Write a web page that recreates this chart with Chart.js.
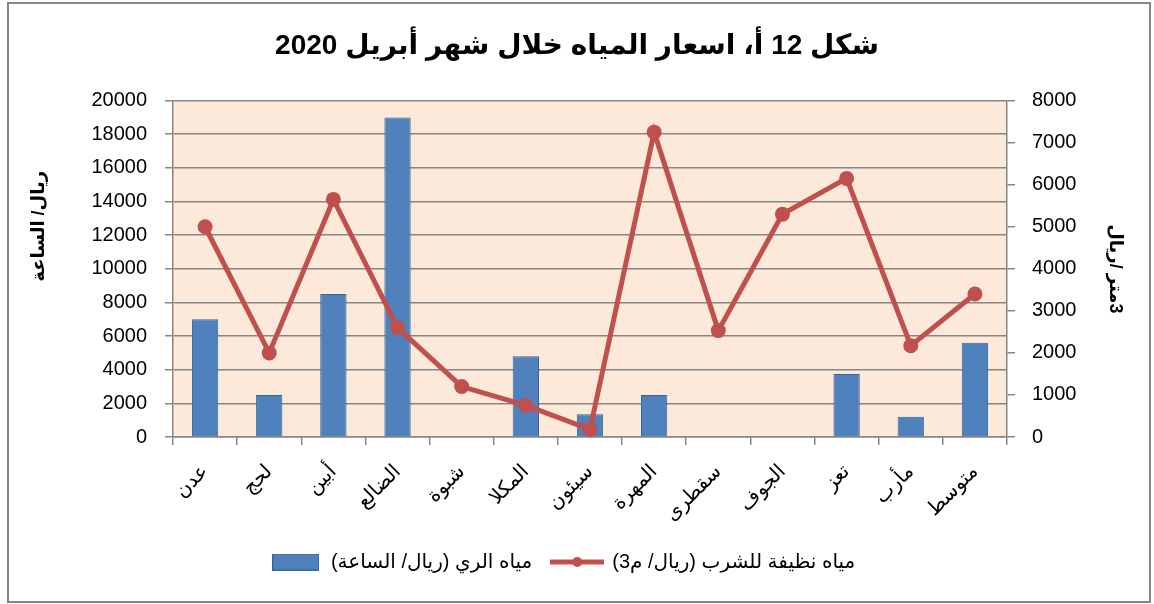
<!DOCTYPE html>
<html>
<head>
<meta charset="utf-8">
<script src="https://cdn.jsdelivr.net/npm/chart.js@4"></script>
<style>
html,body{margin:0;padding:0;background:#fff;}
#wrap{width:1154px;height:604px;position:relative;}
</style>
</head>
<body>
<div id="wrap"><canvas id="waterPrices"></canvas></div>
<script>
// categories (governorates) and the two series
const categories = ["عدن","لحج","أبين","الضالع","شبوة","المكلا","سيئون","المهرة","سقطرى","الجوف","تعز","مأرب","متوسط"];
const irrigationValues = [7000,2500,8500,19000,null,4800,1350,2500,null,null,3750,1200,5600];
const drinkingValues = [5000,2000,5650,2600,1200,750,180,7250,2530,5300,6150,2170,3400];

const chartTitle = "شكل 12 أ، اسعار المياه خلال شهر أبريل 2020";
const irrigationLabel = "مياه الري (ريال/ الساعة)";
const drinkingLabel = "مياه نظيفة للشرب (ريال/ م3)";
const leftAxisTitle = "ريال/ الساعة";
const rightAxisTitle = "\u200Eريال\u200E/ \u200Eمتر\u200E3";

const leftMax = 20000, leftStep = 2000;
const rightMax = 8000, rightStep = 1000;

const fontFamily = "'Liberation Sans', 'DejaVu Sans', sans-serif";
const gridGray = "#868686";
const barBlue = "#4F81BD";
const lineRed = "#C0504D";

/* small pictures used as legend markers */
function barSwatch(){
    const c=document.createElement("canvas");
    c.width=47; c.height=17;
    const g=c.getContext("2d");
    g.fillStyle=barBlue;
    g.fillRect(0,0,47,17);
    g.strokeStyle="#3A6496";
    g.lineWidth=1;
    g.strokeRect(0.5,0.5,46,16);
    return c;
}
function lineSwatch(){
    const c=document.createElement("canvas");
    c.width=54; c.height=12;
    const g=c.getContext("2d");
    g.strokeStyle=lineRed;
    g.lineWidth=5;
    g.beginPath(); g.moveTo(0,6); g.lineTo(54,6); g.stroke();
    g.fillStyle=lineRed;
    g.beginPath(); g.arc(27,6,5,0,Math.PI*2); g.fill();
    return c;
}

const plotBackground = {
    id:"plotBackground",
    beforeDraw(chart){
        const {ctx, chartArea:a} = chart;
        ctx.save();
        ctx.fillStyle="#FDE9D9";
        ctx.fillRect(a.left,a.top,a.right-a.left,a.bottom-a.top);
        ctx.restore();
    }
};

const outerFrame = {
    id:"outerFrame",
    afterDraw(chart){
        const ctx=chart.ctx;
        ctx.save();
        ctx.strokeStyle=gridGray;
        ctx.lineWidth=2;
        ctx.strokeRect(8,3,1142,599);
        ctx.restore();
    }
};

const markers=[barSwatch(),lineSwatch()];

function plainNumber(v){ return String(v); }

let canvas=document.getElementById("waterPrices").getContext("2d");

let chart=new Chart(canvas,{
    data:{
        labels:categories,
        datasets:[
            {
                type:"bar",
                label:irrigationLabel,
                data:irrigationValues,
                yAxisID:"y",
                backgroundColor:barBlue,
                borderColor:"#3A6496",
                borderWidth:1,
                categoryPercentage:1,
                barPercentage:0.41,
                order:2
            },
            {
                type:"line",
                label:drinkingLabel,
                data:drinkingValues,
                yAxisID:"y1",
                borderColor:lineRed,
                backgroundColor:lineRed,
                borderWidth:5,
                pointRadius:5,
                pointHoverRadius:5,
                pointBackgroundColor:lineRed,
                pointBorderColor:lineRed,
                tension:0,
                fill:false,
                order:1
            }
        ]
    },
    options:{
        responsive:true,
        maintainAspectRatio:false,
        animation:false,
        devicePixelRatio:1,
        layout:{padding:{left:0,right:0,top:0,bottom:22}},
        plugins:{
            title:{
                display:true,
                text:chartTitle,
                color:"#000",
                font:{family:fontFamily,size:28,weight:"bold"},
                padding:{top:29,bottom:38}
            },
            legend:{
                display:true,
                position:"bottom",
                labels:{
                    color:"#000",
                    font:{family:fontFamily,size:20},
                    usePointStyle:true,
                    pointStyleWidth:50,
                    padding:20,
                    sort:(a,b)=>a.datasetIndex-b.datasetIndex,
                    generateLabels(chart){
                        const items=Chart.defaults.plugins.legend.labels.generateLabels(chart);
                        items.forEach(it=>{ it.pointStyle=markers[it.datasetIndex]; });
                        // a little extra room after the first entry
                        items[0].text=items[0].text+"     ";
                        return items;
                    }
                }
            },
            tooltip:{enabled:false}
        },
        scales:{
            x:{
                offset:true,
                grid:{display:true,drawOnChartArea:false,drawTicks:true,tickLength:8,color:gridGray,lineWidth:1.5,offset:true},
                border:{color:gridGray,width:1.5},
                ticks:{color:"#000",font:{family:fontFamily,size:20},minRotation:45,maxRotation:45,padding:15,autoSkip:false},
                afterFit(s){ s.height=95; }
            },
            y:{
                position:"left",
                min:0,
                max:leftMax,
                ticks:{stepSize:leftStep,color:"#000",font:{family:fontFamily,size:20},padding:18,callback:plainNumber},
                grid:{color:gridGray,lineWidth:1.5,tickLength:8},
                border:{color:gridGray,width:1.5},
                title:{display:true,text:"                 "+leftAxisTitle,color:"#000",font:{family:fontFamily,size:18,weight:"bold"},padding:{top:28,bottom:0}},
                afterFit(s){ s.width=173; }
            },
            y1:{
                position:"right",
                min:0,
                max:rightMax,
                ticks:{stepSize:rightStep,color:"#000",font:{family:fontFamily,size:20},padding:17,callback:plainNumber},
                grid:{drawOnChartArea:false,color:gridGray,lineWidth:1.5,tickLength:8},
                border:{color:gridGray,width:1.5},
                title:{display:true,text:rightAxisTitle,color:"#000",font:{family:fontFamily,size:18,weight:"bold"},padding:{top:28,bottom:0}},
                afterFit(s){ s.width=147; }
            }
        }
    },
    plugins:[plotBackground,outerFrame]
});
</script>
</body>
</html>
